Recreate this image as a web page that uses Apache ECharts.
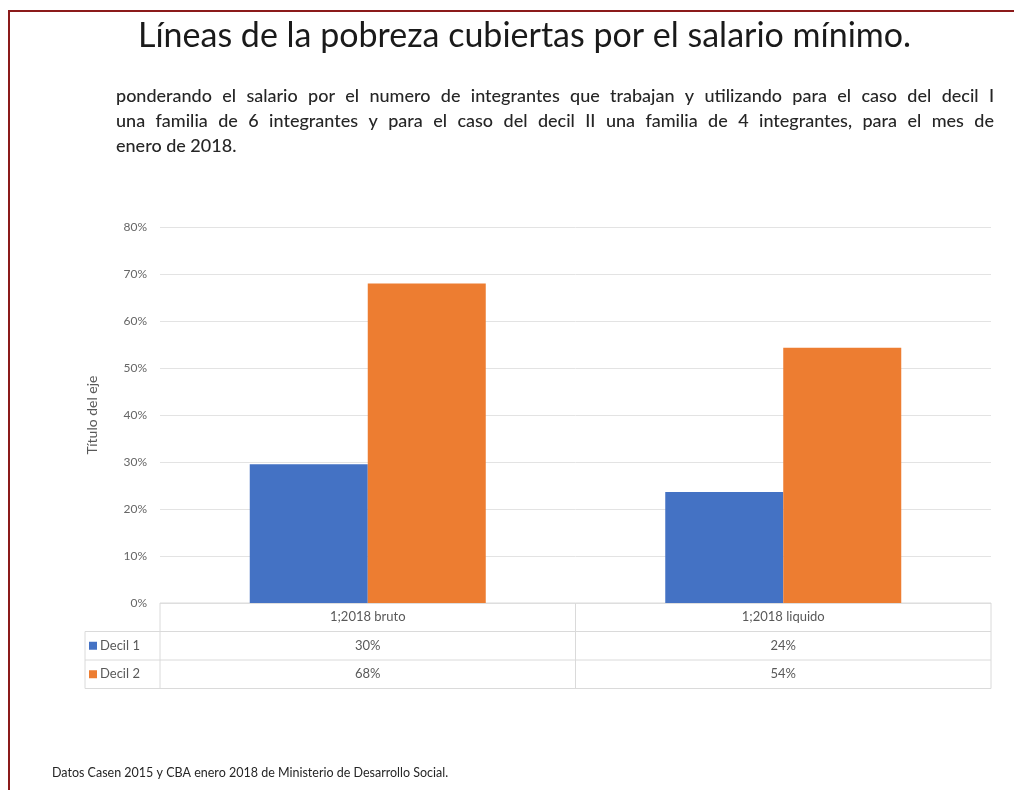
<!DOCTYPE html>
<html>
<head>
<meta charset="utf-8">
<script src="https://cdn.jsdelivr.net/npm/echarts@6/dist/echarts.min.js"></script>
<style>
  html, body { margin: 0; padding: 0; background: #fff; }
  #main { width: 1014px; height: 790px; }
</style>
</head>
<body>
<div id="main"></div>
<script>
// datos
var categorias = ['1;2018 bruto', '1;2018 liquido'];
var series_nombres = ['Decil 1', 'Decil 2'];
var decil1 = [0.295, 0.236];
var decil2 = [0.68, 0.543];
var decil1_tabla = ['30%', '24%'];
var decil2_tabla = ['68%', '54%'];
var colores = ['#4472c4', '#ed7d31'];

var titulo = 'Líneas de la pobreza cubiertas por el salario mínimo.';
var parrafo = [
    'ponderando el salario por el numero de integrantes que trabajan y utilizando para el caso del decil I',
    'una familia de 6 integrantes y para el caso del decil II una familia de 4 integrantes, para el mes de',
    'enero de 2018.'
];
var fuente = 'Datos Casen 2015 y CBA enero 2018 de Ministerio de Desarrollo Social.';

var myChart = echarts.init(document.getElementById('main'));
var FONT = 'Lato, "Open Sans", sans-serif';

function set_chart() {
    return {
        animation: false,
        textStyle: {fontFamily: FONT},
        title: {
            text: titulo,
            left: 133,
            top: 14,
            textStyle: {fontSize: 34, fontWeight: 'normal', color: '#1a1a1a', fontFamily: FONT}
        },
        grid: {left: 160, right: 23, top: 227, bottom: 187},
        xAxis: {
            type: 'category',
            data: categorias,
            axisLine: {show: false},
            axisTick: {show: false},
            axisLabel: {show: false}
        },
        yAxis: {
            type: 'value',
            min: 0,
            max: 0.8,
            interval: 0.1,
            name: 'Título del eje',
            nameLocation: 'middle',
            nameGap: 61,
            nameTextStyle: {color: '#595959', fontSize: 14, fontFamily: FONT},
            axisLabel: {
                color: '#666',
                fontSize: 12,
                margin: 13,
                formatter: function (v) { return Math.round(v * 100) + '%'; }
            },
            splitLine: {lineStyle: {color: '#e3e3e3', width: 1}}
        },
        series: [
            {
                name: series_nombres[0],
                type: 'bar',
                data: decil1,
                barWidth: 118,
                barGap: '0%',
                itemStyle: {color: colores[0]}
            },
            {
                name: series_nombres[1],
                type: 'bar',
                data: decil2,
                barWidth: 118,
                barGap: '0%',
                itemStyle: {color: colores[1]}
            }
        ]
    };
}

myChart.setOption(set_chart());

// tabla de datos bajo el grafico, marco y textos
function build_graphic() {
    var c0 = myChart.convertToPixel({xAxisIndex: 0}, 0);
    var c1 = myChart.convertToPixel({xAxisIndex: 0}, 1);
    var half = (c1 - c0) / 2;
    var x0 = c0 - half, x1 = c0 + half, x2 = c1 + half;
    var y0 = myChart.convertToPixel({yAxisIndex: 0}, 0);
    var rowH = 28.5;
    var legX = 85;
    var lineStyle = {stroke: '#dadada', lineWidth: 1};
    var tableFont = '13px ' + FONT;
    var els = [];

    function line(a, b, c, d) {
        els.push({type: 'line', shape: {x1: a, y1: b, x2: c, y2: d}, style: lineStyle, silent: true});
    }

    line(x0, y0, x2, y0);
    line(legX, y0 + rowH, x2, y0 + rowH);
    line(legX, y0 + rowH * 2, x2, y0 + rowH * 2);
    line(legX, y0 + rowH * 3, x2, y0 + rowH * 3);
    line(legX, y0 + rowH, legX, y0 + rowH * 3);
    line(x0, y0, x0, y0 + rowH * 3);
    line(x1, y0, x1, y0 + rowH * 3);
    line(x2, y0, x2, y0 + rowH * 3);

    var centros = [c0, c1];
    var filas = [decil1_tabla, decil2_tabla];
    categorias.forEach(function (cat, i) {
        els.push({type: 'text', x: centros[i], y: y0 + rowH / 2,
            style: {text: cat, fill: '#595959', font: tableFont, align: 'center', verticalAlign: 'middle'}});
        filas.forEach(function (fila, j) {
            els.push({type: 'text', x: centros[i], y: y0 + rowH * (j + 1.5),
                style: {text: fila[i], fill: '#595959', font: tableFont, align: 'center', verticalAlign: 'middle'}});
        });
    });
    series_nombres.forEach(function (nm, j) {
        var yc = y0 + rowH * (j + 1.5);
        els.push({type: 'rect', shape: {x: legX + 4, y: yc - 4, width: 8, height: 8}, style: {fill: colores[j]}});
        els.push({type: 'text', x: legX + 15, y: yc,
            style: {text: nm, fill: '#595959', font: tableFont, align: 'left', verticalAlign: 'middle'}});
    });

    // parrafo justificado (las dos primeras lineas)
    var pFont = '500 18px ' + FONT;
    var ctx = document.createElement('canvas').getContext('2d');
    ctx.font = pFont;
    var pLeft = 116, pWidth = 878;
    parrafo.forEach(function (t, k) {
        var yc = 96 + k * 25;
        if (k === parrafo.length - 1) {
            els.push({type: 'text', x: pLeft, y: yc,
                style: {text: t, fill: '#262626', font: pFont, align: 'left', verticalAlign: 'middle'}});
            return;
        }
        var words = t.split(' ');
        var total = 0;
        words.forEach(function (w) { total += ctx.measureText(w).width; });
        var gap = (pWidth - total) / (words.length - 1);
        var x = pLeft;
        words.forEach(function (w) {
            els.push({type: 'text', x: x, y: yc,
                style: {text: w, fill: '#262626', font: pFont, align: 'left', verticalAlign: 'middle'}});
            x += ctx.measureText(w).width + gap;
        });
    });

    els.push({type: 'text', x: 52, y: 773,
        style: {text: fuente, fill: '#262626', font: '12.5px ' + FONT, align: 'left', verticalAlign: 'middle'}});

    // marco
    els.push({type: 'rect', shape: {x: 9, y: 11, width: 1030, height: 820},
        style: {fill: 'none', stroke: '#8b1a1a', lineWidth: 2}, silent: true});

    myChart.setOption({graphic: els});
}

build_graphic();
</script>
</body>
</html>
